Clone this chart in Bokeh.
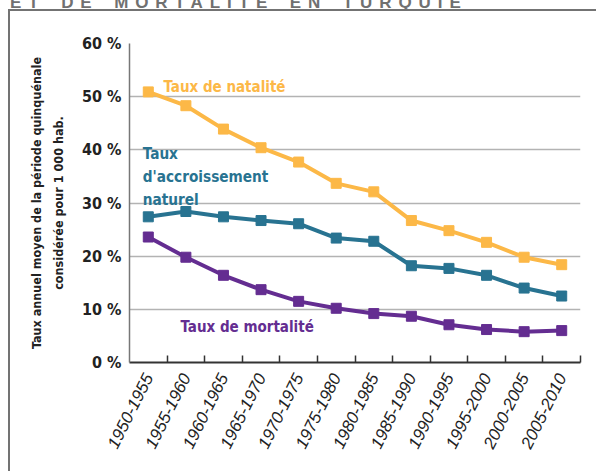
import math
from bokeh.plotting import figure
from bokeh.layouts import column
from bokeh.models import Range1d, FixedTicker, Label, Div
from bokeh.embed import file_html
from bokeh.resources import INLINE

# ---- data ----
periodes = ["1950-1955", "1955-1960", "1960-1965", "1965-1970", "1970-1975", "1975-1980",
            "1980-1985", "1985-1990", "1990-1995", "1995-2000", "2000-2005", "2005-2010"]
natalite = [50.9, 48.3, 43.9, 40.4, 37.7, 33.7, 32.1, 26.7, 24.8, 22.6, 19.8, 18.4]
accroissement = [27.4, 28.4, 27.4, 26.7, 26.1, 23.4, 22.8, 18.2, 17.7, 16.4, 14.0, 12.5]
mortalite = [23.6, 19.8, 16.4, 13.7, 11.5, 10.2, 9.2, 8.7, 7.1, 6.2, 5.8, 6.0]
y_ticks = [0, 10, 20, 30, 40, 50, 60]
y_tick_labels = ["0 %", "10 %", "20 %", "30 %", "40 %", "50 %", "60 %"]
titre = "ET DE MORTALITE EN TURQUIE"

ORANGE = "#FCB847"
TEAL = "#287391"
PURPLE = "#642D91"
FONT = "DejaVu Sans Condensed, Liberation Sans, sans-serif"

xs = [i + 0.5 for i in range(len(periodes))]
boundaries = [i + 1 for i in range(len(periodes))]

fig = figure(width=588, height=462, x_range=Range1d(0, len(periodes)), y_range=Range1d(0, 60),
             output_backend="svg", toolbar_location=None,
             min_border_left=119, min_border_right=18, min_border_top=32, min_border_bottom=111)
fig.styles = {"margin-left": "10px", "margin-top": "-5px",
              "box-shadow": "-2px -2px 0px 0px #737373"}
fig.outline_line_color = None
fig.background_fill_color = "white"
fig.border_fill_color = "white"

# x axis
fig.xaxis.ticker = FixedTicker(ticks=xs, minor_ticks=boundaries)
fig.xaxis.major_label_overrides = {x: lab for x, lab in zip(xs, periodes)}
fig.xaxis.major_tick_in = 0
fig.xaxis.major_tick_out = 0
fig.xaxis.minor_tick_in = 7
fig.xaxis.minor_tick_out = 0
fig.xaxis.minor_tick_line_color = "#333333"
fig.xaxis.minor_tick_line_width = 1.5
fig.xaxis.axis_line_color = "#333333"
fig.xaxis.axis_line_width = 2
fig.xaxis.major_label_orientation = math.radians(63.5)
fig.xaxis.major_label_text_font = "Liberation Sans"
fig.xaxis.major_label_text_font_style = "italic"
fig.xaxis.major_label_text_font_size = "17px"
fig.xaxis.major_label_text_color = "#222222"
fig.xaxis.major_label_standoff = 12

# y axis
yt = FixedTicker(ticks=y_ticks)
fig.yaxis.ticker = yt
fig.ygrid.ticker = yt
fig.yaxis.major_label_overrides = {t: lab for t, lab in zip(y_ticks, y_tick_labels)}
fig.yaxis.major_tick_in = 0
fig.yaxis.major_tick_out = 0
fig.yaxis.minor_tick_line_color = None
fig.yaxis.axis_line_color = "#777777"
fig.yaxis.axis_line_width = 1.5
fig.yaxis.major_label_text_font = FONT
fig.yaxis.major_label_text_font_style = "bold"
fig.yaxis.major_label_text_font_size = "16px"
fig.yaxis.major_label_text_color = "#222222"
fig.yaxis.major_label_standoff = 8
fig.yaxis.axis_label = "Taux annuel moyen de la période quinquénale\nconsidérée pour 1 000 hab."
fig.yaxis.axis_label_text_font = FONT
fig.yaxis.axis_label_text_font_style = "bold"
fig.yaxis.axis_label_text_font_size = "12.5px"
fig.yaxis.axis_label_text_color = "#222222"
fig.yaxis.axis_label_standoff = 13
fig.yaxis.axis_label_text_line_height = 1.45

fig.xgrid.visible = False
fig.ygrid.grid_line_color = "#b3b3b3"
fig.ygrid.grid_line_width = 1.5

# series
for vals, col in [(natalite, ORANGE), (accroissement, TEAL), (mortalite, PURPLE)]:
    fig.line(xs, vals, line_color=col, line_width=4)
    fig.scatter(xs, vals, marker="square", size=10, fill_color=col, line_color=col)

# labels (positions in data space)
def lab(text, x, y, col, size="15px"):
    fig.add_layout(Label(x=x, y=y, text=text, text_color=col, text_font=FONT,
                         text_font_style="bold", text_font_size=size,
                         text_baseline="alphabetic", text_align="left"))

lab("Taux de natalité", 0.905, 51.8, ORANGE)
lab("Taux", 0.354, 39.2, TEAL, "15.2px")
lab("d'accroissement", 0.354, 34.8, TEAL, "15.2px")
lab("naturel", 0.354, 30.6, TEAL, "15.2px")
lab("Taux de mortalité", 1.357, 6.77, PURPLE)

# clipped header line of the page above the frame
head = Div(text=titre, width=580, height=17,
           styles={"margin-top": "-6px", "margin-left": "10px",
                   "font-family": "Liberation Sans, sans-serif", "font-weight": "bold",
                   "font-size": "17px", "line-height": "17px", "letter-spacing": "6.9px",
                   "word-spacing": "4px", "color": "#707070", "white-space": "nowrap"})

p = column(head, fig, spacing=0)

open("out.html", "w").write(file_html(p, INLINE))
